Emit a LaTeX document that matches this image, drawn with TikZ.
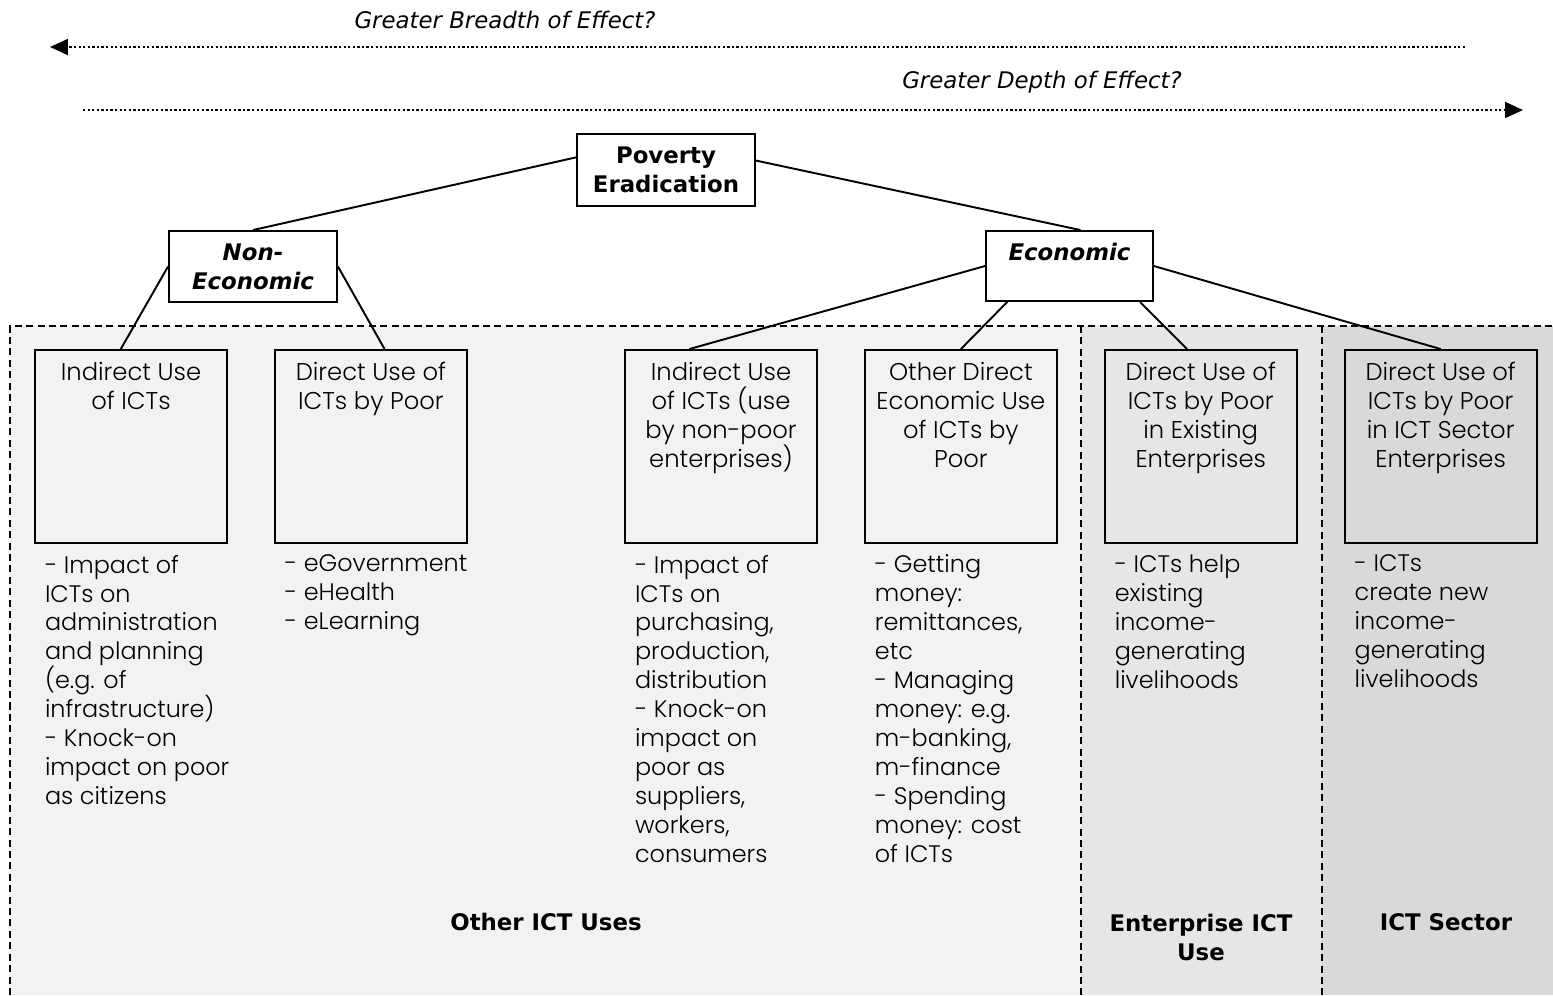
\documentclass[tikz,border=0pt]{standalone}
\usepackage{fontspec}
\usetikzlibrary{positioning,arrows.meta}

\newfontfamily\verdfont{DejaVu Sans}
\newfontfamily\gothfont{Poppins}[UprightFont=* Light]

\definecolor{othergray}{HTML}{F2F2F2}
\definecolor{entgray}{HTML}{E6E6E6}
\definecolor{secgray}{HTML}{D9D9D9}

\begin{document}
\begin{tikzpicture}[x=0.02cm, y=-0.02cm, node distance=0.92cm, line width=1.1pt]

    % Define styles
    \tikzstyle{topbox} = [draw, rectangle, fill=white, inner sep=0pt, align=center, font=\verdfont\bfseries\fontsize{13}{16.5}\selectfont]
    \tikzstyle{usebox} = [draw, rectangle, minimum width=3.84cm, minimum height=3.86cm]
    \tikzstyle{boxtext} = [inner sep=0pt, align=center, font=\gothfont\fontsize{13.8}{16.5}\selectfont]
    \tikzstyle{desc} = [inner sep=0pt, align=left, font=\gothfont\fontsize{13.6}{16.5}\selectfont]
    \tikzstyle{area} = [inner sep=0pt, align=center, font=\verdfont\bfseries\fontsize{13}{16.5}\selectfont]
    \tikzstyle{sep} = [dash pattern=on 4pt off 2.5pt]

    \useasboundingbox (0,0) rectangle (1553,995);

    % AREAS
    \fill[othergray] (10,326) rectangle (1081,995);
    \fill[entgray] (1081,326) rectangle (1322,995);
    \fill[secgray] (1322,326) rectangle (1553,995);
    \draw[sep] (10,995) -- (10,326) -- (1553,326);
    \draw[sep] (1081,326) -- (1081,995);
    \draw[sep] (1322,326) -- (1322,995);

    % EFFECT ARROWS
    \node (breadth_label) at (505,20) [font=\verdfont\itshape\fontsize{13}{16}\selectfont] {Greater Breadth of Effect?};
    \node (depth_label) at (1042,82) [font=\verdfont\itshape\fontsize{13}{16}\selectfont] {Greater Depth of Effect?};
    \coordinate (breadth_start) at (1465,47);
    \coordinate (breadth_end) at (50,47);
    \coordinate (depth_start) at (83,110);
    \coordinate (depth_end) at (1523,110);
    \draw[dash pattern=on 1.3pt off 1.3pt, -{Triangle[length=0.36cm, width=0.32cm]}] (breadth_start) -- (breadth_end);
    \draw[dash pattern=on 1.3pt off 1.3pt, -{Triangle[length=0.36cm, width=0.32cm]}] (depth_start) -- (depth_end);

    % GOAL AND CATEGORIES
    \node (pov) at (666,170) [topbox, minimum width=3.56cm, minimum height=1.44cm] {Poverty\\Eradication};
    \node (noneco) at (253,266.5) [topbox, minimum width=3.36cm, minimum height=1.42cm] {\itshape Non-\\\itshape Economic};
    \node (eco) at (1069.5,266) [topbox, minimum width=3.34cm, minimum height=1.4cm] {\itshape Economic\\~};

    % USE BOXES
    \node (b1) at (131,446.5) [usebox] {};
    \node (b2) [usebox, right=of b1] {};
    \node (b3) at (721,446.5) [usebox] {};
    \node (b4) [usebox, right=of b3] {};
    \node (b5) [usebox, right=of b4] {};
    \node (b6) [usebox, right=of b5] {};

    \node (b1_title) [boxtext, below=0.24cm of b1.north] {Indirect Use\\of ICTs};
    \node (b2_title) [boxtext, below=0.24cm of b2.north] {Direct Use of\\ICTs by Poor};
    \node (b3_title) [boxtext, below=0.24cm of b3.north] {Indirect Use\\of ICTs (use\\by non-poor\\enterprises)};
    \node (b4_title) [boxtext, below=0.24cm of b4.north] {Other Direct\\Economic Use\\of ICTs by\\Poor};
    \node (b5_title) [boxtext, below=0.24cm of b5.north] {Direct Use of\\ICTs by Poor\\in Existing\\Enterprises};
    \node (b6_title) [boxtext, below=0.24cm of b6.north] {Direct Use of\\ICTs by Poor\\in ICT Sector\\Enterprises};

    % DESCRIPTIONS
    \node (b1_desc) [desc, below right=0.2cm and 0.2cm of b1.south west] {- Impact of\\ICTs on\\administration\\and planning\\(e.g. of\\infrastructure)\\- Knock-on\\impact on poor\\as citizens};
    \node (b2_desc) [desc, below right=0.2cm and 0.2cm of b2.south west] {- eGovernment\\- eHealth\\- eLearning};
    \node (b3_desc) [desc, below right=0.2cm and 0.2cm of b3.south west] {- Impact of\\ICTs on\\purchasing,\\production,\\distribution\\- Knock-on\\impact on\\poor as\\suppliers,\\workers,\\consumers};
    \node (b4_desc) [desc, below right=0.2cm and 0.2cm of b4.south west] {- Getting\\money:\\remittances,\\etc\\- Managing\\money: e.g.\\m-banking,\\m-finance\\- Spending\\money: cost\\of ICTs};
    \node (b5_desc) [desc, below right=0.2cm and 0.2cm of b5.south west] {- ICTs help\\existing\\income-\\generating\\livelihoods};
    \node (b6_desc) [desc, below right=0.2cm and 0.2cm of b6.south west] {- ICTs\\create new\\income-\\generating\\livelihoods};

    % AREA LABELS
    \node (other_label) at (546,922) [area] {Other ICT Uses};
    \node (ent_label) at (1201,937) [area] {Enterprise ICT\\Use};
    \node (sector_label) at (1446,922) [area] {ICT Sector};

    % CONNECTIONS
    \draw (pov.172) -- (noneco.north);
    \draw (pov.6) -- (eco.73);
    \draw (noneco.west) -- (b1.96);
    \draw (noneco.east) -- (b2.82);
    \draw (eco.west) -- (b3.108);
    \draw (eco.210) -- (b4.north);
    \draw (eco.333) -- (b5.98);
    \draw (eco.east) -- (b6.north);

\end{tikzpicture}
\end{document}
